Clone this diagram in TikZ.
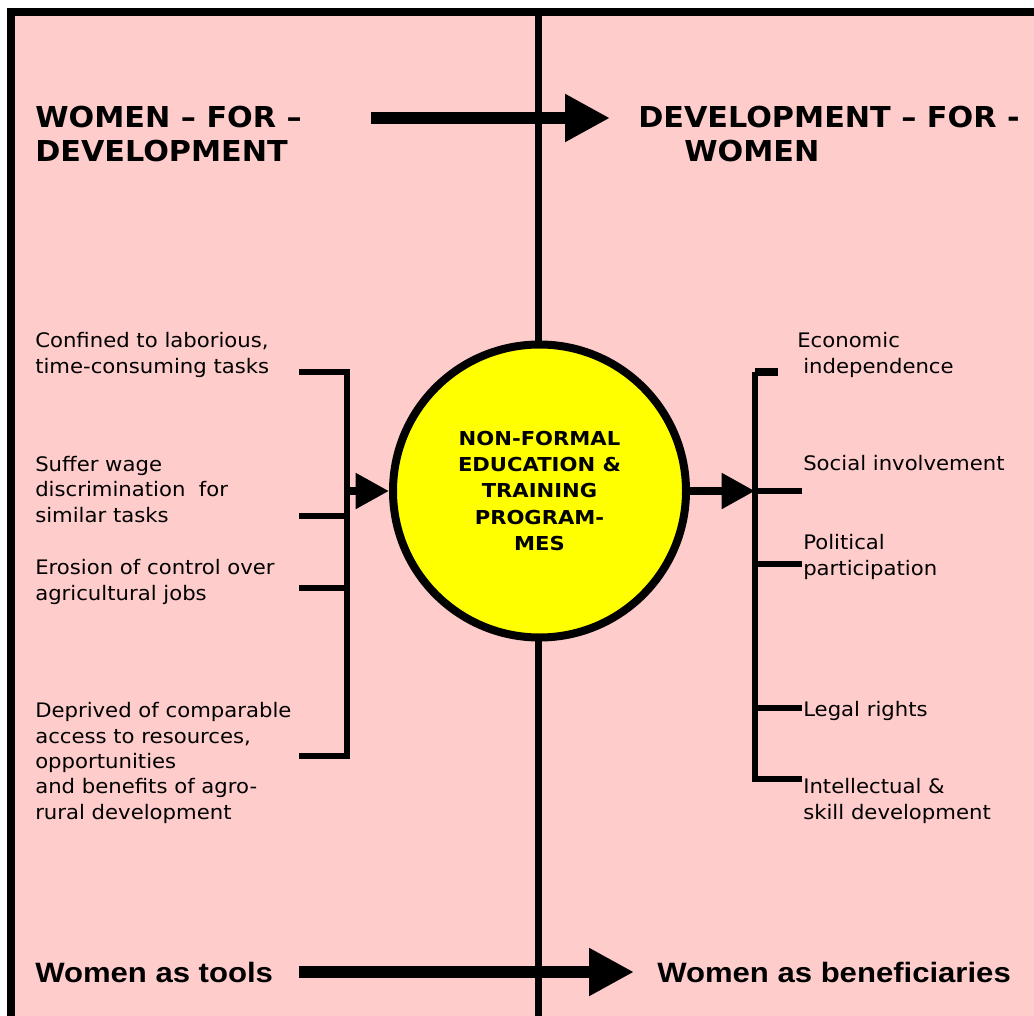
\documentclass[tikz,border=0pt]{standalone}
\usepackage{fontspec}
\usetikzlibrary{arrows.meta}
\newfontfamily\bodyfont{DejaVu Sans}[FakeStretch=1.06]
\newfontfamily\headfont{DejaVu Sans}[FakeStretch=1.05]
\newfontfamily\hubfont{DejaVu Sans}[FakeStretch=1.1]
\newfontfamily\tagfont{Liberation Sans}[FakeStretch=1.11]
\definecolor{panel}{HTML}{FFCCCC}
\definecolor{hub}{HTML}{FFFF00}

\begin{document}
\begin{tikzpicture}[x=0.75pt,y=-0.75pt,
  % multi-line nodes are placed by the baseline of their last line
  body/.style={anchor=base west, inner sep=0pt, align=left,
    font=\bodyfont\fontsize{15}{19}\selectfont},
  head/.style={anchor=base west, inner sep=0pt, align=left,
    font=\headfont\bfseries\fontsize{21.6}{25.5}\selectfont},
  tag/.style={anchor=base west, inner sep=0pt,
    font=\tagfont\bfseries\fontsize{21}{25}\selectfont},
  bar/.style={line width=4.5pt, line join=miter},
  bigarrow/.style={line width=9pt, -{Triangle[length=33.75pt,width=33.75pt]}},
  smallarrow/.style={line width=6pt, -{Triangle[length=25pt,width=25.5pt]}},
  hubnode/.style={circle, draw, line width=6pt, fill=hub, minimum size=219.75pt,
    inner sep=0pt, align=center,
    font=\hubfont\bfseries\fontsize{14.4}{19.65}\selectfont},
]
\useasboundingbox (0,0) rectangle (1034,1016);
\clip (0,0) rectangle (1034,1016);

% frame and panel
\fill[white] (0,0) rectangle (1034,1016);
\draw[line width=6pt, fill=panel] (11,12) rectangle (1060,1040);

% central divider
\coordinate (divtop) at (538.5,12);
\coordinate (divbot) at (538.5,1016);
\draw[line width=5.25pt] (divtop) -- (divbot);

% headings
\node[head] (wfd) at (35,162) {WOMEN – FOR –\\DEVELOPMENT};
\node[head] (dfw) at (638,162) {DEVELOPMENT – FOR -\\\hspace*{34.5pt}WOMEN};
\coordinate (topfrom) at (371,118);
\coordinate (topto) at (610,118);
\draw[bigarrow] (topfrom) -- (topto);

% bottom line
\node[tag] (tools) at (35,982) {Women as tools};
\node[tag] (benef) at (657,982) {Women as beneficiaries};
\coordinate (botfrom) at (299,972);
\coordinate (botto) at (634,972);
\draw[bigarrow] (botfrom) -- (botto);

% hub
\node[hubnode] (nfe) at (539.5,491) {NON-FORMAL\\EDUCATION \&\\TRAINING\\PROGRAM-\\MES};

% left items
\node[body] (l1) at (35,373) {Confined to laborious,\\time-consuming tasks};
\node[body] (l2) at (35,522) {Suffer wage\\discrimination~ for\\similar tasks};
\node[body] (l3) at (35,600) {Erosion of control over\\agricultural jobs};
\node[body] (l4) at (35,819) {Deprived of comparable\\access to resources,\\opportunities\\and benefits of agro-\\rural development};

% left bracket
\coordinate (lbt) at (346.5,372);
\coordinate (lbm) at (346.5,491);
\coordinate (lbb) at (346.5,756);
\draw[bar] (299,372) -- (lbt) -- (lbb) -- (299,756);
\draw[bar] (299,516) -- (346.5,516);
\draw[bar] (299,588) -- (346.5,588);
\draw[smallarrow] (lbm) -- (nfe.west);

% right items
\node[body] (r1) at (797,373) {Economic\\\hspace*{4.5pt}independence};
\node[body] (r2) at (803,470) {Social involvement};
\node[body] (r3) at (803,575) {Political\\participation};
\node[body] (r4) at (803,716) {Legal rights};
\node[body] (r5) at (803,819) {Intellectual \&\\skill development};

% right bracket
\coordinate (rbt) at (755,372);
\coordinate (rbm) at (755,491);
\coordinate (rbb) at (755,779);
\draw[line width=6pt] (778,372) -- (rbt);
\draw[bar] (rbt) -- (rbb) -- (802,779);
\draw[bar] (rbm) -- (802,491);
\draw[bar] (755,564) -- (802,564);
\draw[bar] (755,708) -- (802,708);
\draw[smallarrow] (nfe.east) -- (rbm);
\end{tikzpicture}
\end{document}
